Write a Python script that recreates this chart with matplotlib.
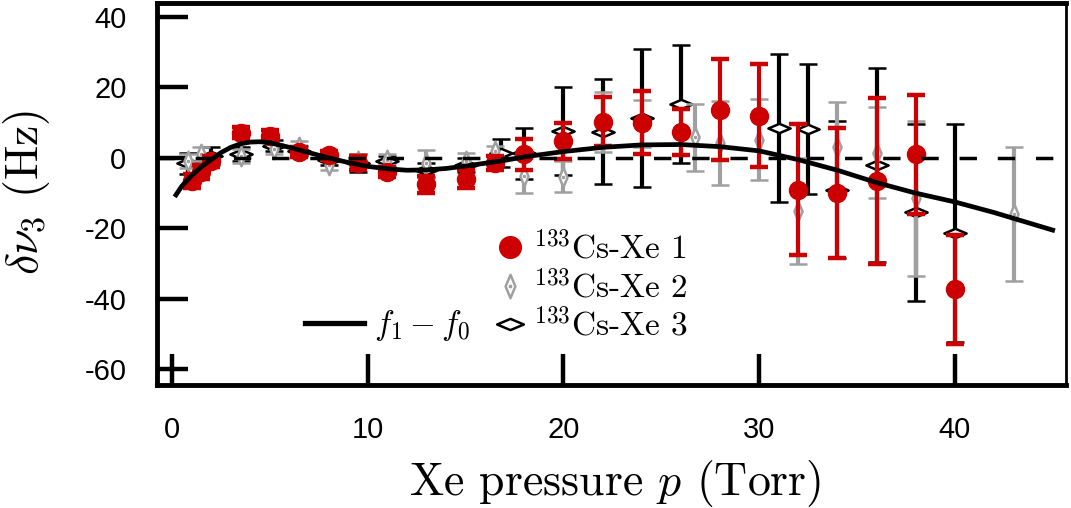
import numpy as np
import matplotlib
matplotlib.use("Agg")
import matplotlib.pyplot as plt
from matplotlib.path import Path
from matplotlib.lines import Line2D

plt.rcParams['mathtext.fontset'] = 'cm'
plt.rcParams['axes.unicode_minus'] = False

# ---- data -------------------------------------------------------------
# 133Cs-Xe cell 1
p1 = [1.0, 1.5, 2.0, 3.5, 5.0, 6.5, 8.0, 9.5, 11.0, 13.0, 15.0, 16.5,
      18, 20, 22, 24, 26, 28, 30, 32, 34, 36, 38, 40]
d1 = [-6.5, -4.0, -1.0, 7.2, 6.3, 1.7, 0.9, -1.5, -4.0, -7.5, -6.0, -1.5,
      1.0, 4.8, 10.3, 10.0, 7.4, 13.7, 12.0, -9.0, -10.0, -6.5, 1.0, -37.3]
e1 = [2.0, 2.0, 1.5, 1.5, 1.5, 1.5, 1.2, 2.0, 1.5, 2.5, 2.5, 2.0,
      4.5, 5.0, 7.0, 9.0, 6.5, 14.3, 14.6, 18.7, 18.5, 23.5, 17.0, 15.5]

# 133Cs-Xe cell 2
p2 = [0.8, 1.5, 3.5, 5.2, 6.5, 8.0, 9.5, 11.0, 13.0, 15.0, 16.5,
      18, 20, 22, 24, 26.7, 28, 30, 32, 34, 36, 38, 43]
d2 = [-1.0, 1.0, 0.5, 2.5, 3.2, -2.0, -1.0, -0.5, -1.5, -1.0, 2.0,
      -5.0, -5.3, 10.3, 9.8, 5.8, 4.2, 5.2, -15.0, 3.0, 1.5, -11.5, -16.0]
e2 = [2.0, 2.0, 2.0, 1.5, 1.5, 1.5, 2.0, 1.5, 3.8, 2.5, 1.5,
      5.0, 4.5, 8.5, 6.7, 9.5, 12.0, 11.5, 15.0, 13.0, 13.0, 22.0, 19.0]

# 133Cs-Xe cell 3
p3 = [0.8, 2.0, 3.5, 5.2, 6.5, 8.0, 9.5, 11.0, 13.0, 15.0, 16.8,
      18, 20, 22, 24, 26, 31, 32.5, 34, 36, 38, 40]
d3 = [-1.5, 0.5, 1.2, 3.5, 2.0, -0.5, -1.5, -1.0, -3.5, -2.0, 1.5,
      1.3, 7.7, 7.5, 11.3, 15.3, 8.6, 8.2, -9.0, -2.0, -15.5, -21.4]
e3 = [3.0, 2.5, 2.0, 1.5, 1.5, 1.5, 2.5, 1.5, 2.0, 2.0, 4.0,
      7.3, 12.5, 15.0, 19.5, 16.7, 21.0, 18.5, 19.5, 27.5, 25.0, 31.0]

# model curve f1 - f0
pf = [0.2, 0.5, 1.0, 1.5, 2.0, 2.5, 3.0, 3.5, 4.0, 4.5, 5.0, 6.0, 7.0, 8.0,
      9.0, 10.0, 11.0, 12.0, 13.0, 14.0, 15.0, 16.0, 17.0, 18.0, 20.0,
      22.0, 24.0, 26.0, 28.0, 30.0, 32.0, 34.0, 36.0, 38.0, 40.0, 42.0, 45.0]
ff = [-10.5, -8.0, -5.0, -2.5, -0.5, 1.5, 3.0, 4.0, 4.5, 4.6, 4.3, 3.0, 1.5,
      0.0, -1.3, -2.4, -3.1, -3.5, -3.4, -3.0, -2.3, -1.5, -0.7, 0.3, 1.8,
      3.0, 3.7, 3.8, 3.2, 2.0, -0.5, -3.5, -7.0, -10.0, -12.5, -15.5, -20.5]

xticks = [0, 10, 20, 30, 40]
yticks = [-60, -40, -20, 0, 20, 40]

# ---- markers ----------------------------------------------------------
thin_diamond = Path(
    [(0, 1), (0.42, 0), (0, -1), (-0.42, 0), (0, 1),
     (-0.05, -0.05), (0.05, -0.05), (0.05, 0.05), (-0.05, 0.05), (-0.05, -0.05)],
    [Path.MOVETO, Path.LINETO, Path.LINETO, Path.LINETO, Path.CLOSEPOLY,
     Path.MOVETO, Path.LINETO, Path.LINETO, Path.LINETO, Path.CLOSEPOLY])
wide_diamond = Path(
    [(-1, 0), (0, 0.42), (1, 0), (0, -0.42), (-1, 0)],
    [Path.MOVETO, Path.LINETO, Path.LINETO, Path.LINETO, Path.CLOSEPOLY])

RED = '#cc0000'
GRAY = '#a0a0a0'

fig = plt.figure(figsize=(10.71, 5.08), dpi=100)
ax = fig.add_axes([0.1466, 0.2421, 0.9953 - 0.1466, 0.9941 - 0.2421])

eb = dict(linestyle='none', elinewidth=3.0, capsize=6.5, capthick=3.2)

ax.errorbar(p3, d3, yerr=e3, color='black', marker=wide_diamond, ms=16,
            mfc='white', mec='black', mew=1.8, zorder=2, **eb)
ax.errorbar(p2, d2, yerr=e2, color=GRAY, marker=thin_diamond, ms=14,
            mfc='white', mec=GRAY, mew=1.8, zorder=3, **eb)
ax.errorbar(p1, d1, yerr=e1, color=RED, marker='o', ms=13,
            mfc=RED, mec=RED, zorder=4, **eb)

ax.axhline(0, color='black', lw=2.5, dashes=(5.0, 6.0), zorder=5)
ax.plot(pf, ff, color='black', lw=3.4, zorder=6)

ax.set_xlim(-0.77, 45.68)
ax.set_ylim(-64.5, 44.0)
ax.set_xticks(xticks)
ax.set_yticks(yticks)
ax.set_xticklabels([str(v) for v in xticks], fontfamily='Liberation Sans', fontsize=21)
ax.set_yticklabels([str(v) for v in yticks], fontfamily='Liberation Sans', fontsize=21)
ax.tick_params(axis='both', direction='in', length=22, width=3.2,
               top=False, right=False)
ax.tick_params(axis='y', pad=22)
ax.tick_params(axis='x', pad=22)

for side in ['left', 'bottom', 'top']:
    ax.spines[side].set_linewidth(3.5)
ax.spines['right'].set_linewidth(2.0)

ax.set_xlabel(r'Xe pressure $p$ (Torr)', fontfamily='cmr10', fontsize=33)
ax.set_ylabel(r'$\delta\nu_3$ (Hz)', fontfamily='cmr10', fontsize=33)
ax.xaxis.set_label_coords(0.504, -0.19)
ax.yaxis.set_label_coords(-0.115, 0.505)

# legends: data sets stacked, model curve on its own to the left
h1 = Line2D([], [], linestyle='none', marker='o', ms=13, mfc=RED, mec=RED)
h2 = Line2D([], [], linestyle='none', marker=thin_diamond, ms=14,
            mfc='white', mec=GRAY, mew=1.8)
h3 = Line2D([], [], linestyle='none', marker=wide_diamond, ms=16,
            mfc='white', mec='black', mew=1.8)
leg_data = ax.legend([h1, h2, h3],
                     [r'$^{133}$Cs-Xe 1', r'$^{133}$Cs-Xe 2', r'$^{133}$Cs-Xe 3'],
                     frameon=False, loc='center left',
                     bbox_to_anchor=(0.370, 0.259),
                     prop={'family': 'cmr10', 'size': 24},
                     handlelength=1.0, handletextpad=0.2,
                     labelspacing=0.12, markerscale=1.2, borderpad=0.0,
                     borderaxespad=0.0)
leg_data.set_zorder(7)
ax.add_artist(leg_data)

h_fit = Line2D([], [], color='black', lw=3.8)
leg_fit = ax.legend([h_fit], [r'$f_1 - f_0$'], frameon=False,
                    loc='center left', bbox_to_anchor=(0.1628, 0.155),
                    prop={'family': 'cmr10', 'size': 24},
                    handlelength=1.76, handletextpad=0.3, borderpad=0.0,
                    borderaxespad=0.0)
leg_fit.set_zorder(7)

fig.savefig('out.png', dpi=100)
